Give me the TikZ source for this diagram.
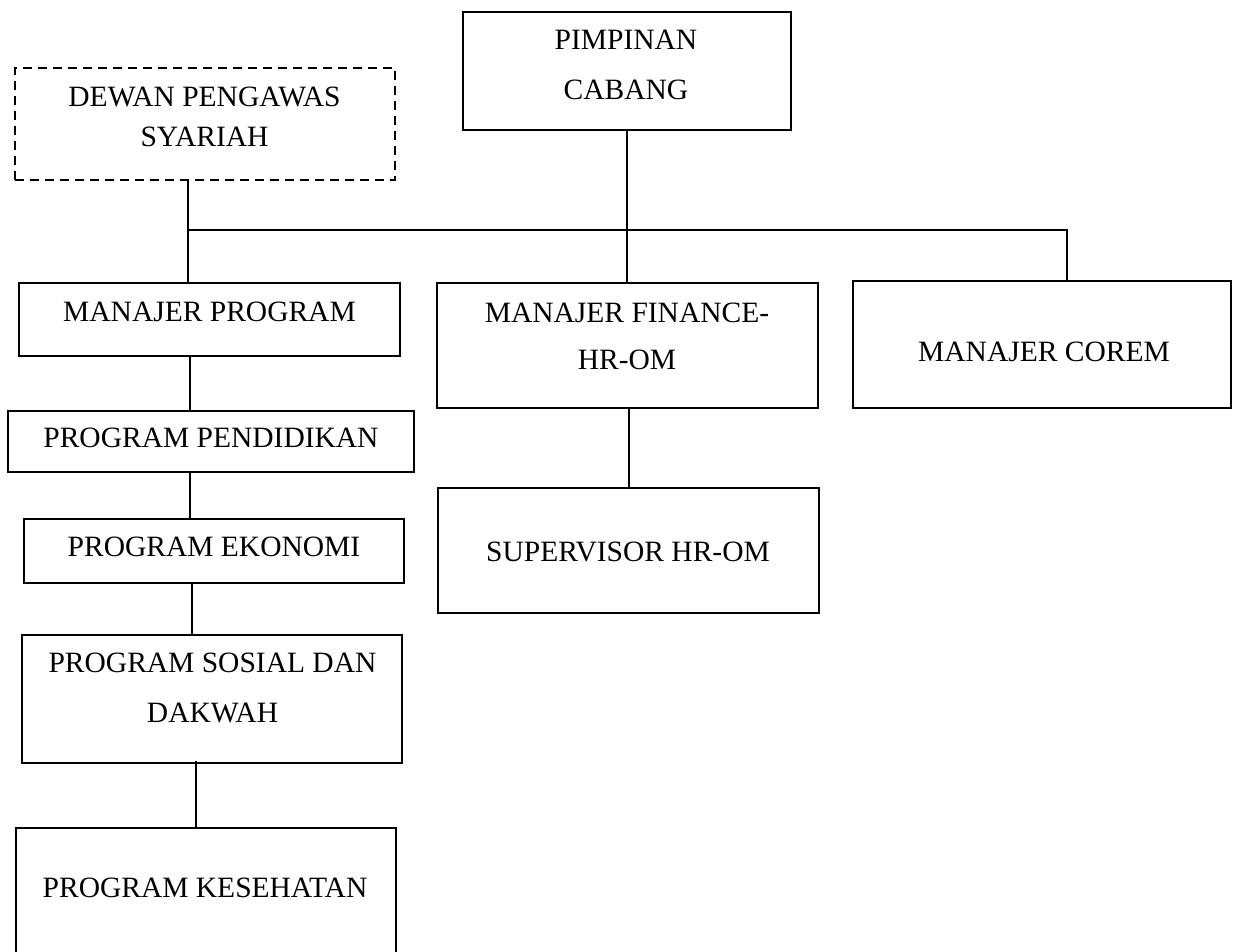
\documentclass[tikz,border=0pt]{standalone}
\usepackage{fontspec}
\setmainfont{Liberation Serif}
\begin{document}
\begin{tikzpicture}[x=1pt,y=-1pt,
  box/.style={draw=black, line width=1.8pt, rectangle, inner sep=0pt},
  dashbox/.style={box, dash pattern=on 9pt off 6pt},
  txt/.style={anchor=north, inner sep=0pt, align=center, font=\fontsize{29.5}{48}\selectfont},
  conn/.style={draw=black, line width=1.8pt}]
\useasboundingbox (0,0) rectangle (1237,951);
% boxes
\node[dashbox, minimum width=380pt, minimum height=112pt] (dewan) at (205,124) {};
\node[box, minimum width=328pt, minimum height=118pt] (pimp) at (627,71) {};
\node[box, minimum width=381pt, minimum height=73pt] (mp) at (209.5,319.5) {};
\node[box, minimum width=406pt, minimum height=61pt] (pend) at (211,441.5) {};
\node[box, minimum width=380pt, minimum height=64pt] (eko) at (214,551) {};
\node[box, minimum width=380pt, minimum height=128pt] (sos) at (212,699) {};
\node[box, minimum width=380pt, minimum height=160pt] (kes) at (206,908) {};
\node[box, minimum width=381pt, minimum height=125pt] (fin) at (627.5,345.5) {};
\node[box, minimum width=381pt, minimum height=125pt] (sup) at (628.5,550.5) {};
\node[box, minimum width=378pt, minimum height=127pt] (corem) at (1042,344.5) {};
% texts
\node[txt, font=\fontsize{29.5}{40}\selectfont] (tdewan) at (204.5,87) {DEWAN PENGAWAS\\SYARIAH};
\node[txt, font=\fontsize{29.5}{50}\selectfont] (tpimp) at (626,30) {PIMPINAN\\CABANG};
\node[txt] (tmp) at (209.5,302) {MANAJER PROGRAM};
\node[txt] (tpend) at (211,428) {PROGRAM PENDIDIKAN};
\node[txt] (teko) at (214,537) {PROGRAM EKONOMI};
\node[txt, font=\fontsize{29.5}{50}\selectfont] (tsos) at (212.5,653) {PROGRAM SOSIAL DAN\\DAKWAH};
\node[txt] (tkes) at (205,878) {PROGRAM KESEHATAN};
\node[txt, font=\fontsize{29.5}{47}\selectfont] (tfin) at (627,303) {MANAJER FINANCE-\\HR-OM};
\node[txt] (tsup) at (628,542) {SUPERVISOR HR-OM};
\node[txt] (tcorem) at (1044,342) {MANAJER COREM};
% connectors
\coordinate (j1) at (188,230);
\coordinate (j2) at (1067,230);
\coordinate (c1) at (190,0);
\coordinate (c2) at (192,0);
\coordinate (c3) at (196,0);
\coordinate (c4) at (629,0);
\draw[conn] (j1 |- dewan.south) -- (j1 |- mp.north);
\draw[conn] (j1) -- (j2) -- (j2 |- corem.north);
\draw[conn] (pimp.south) -- (pimp.south |- fin.north);
\draw[conn] (c1 |- mp.south) -- (c1 |- pend.north);
\draw[conn] (c1 |- pend.south) -- (c1 |- eko.north);
\draw[conn] (c2 |- eko.south) -- (c2 |- sos.north);
\draw[conn] ([yshift=3pt]c3 |- sos.south) -- (c3 |- kes.north);
\draw[conn] (c4 |- fin.south) -- (c4 |- sup.north);
\end{tikzpicture}
\end{document}
